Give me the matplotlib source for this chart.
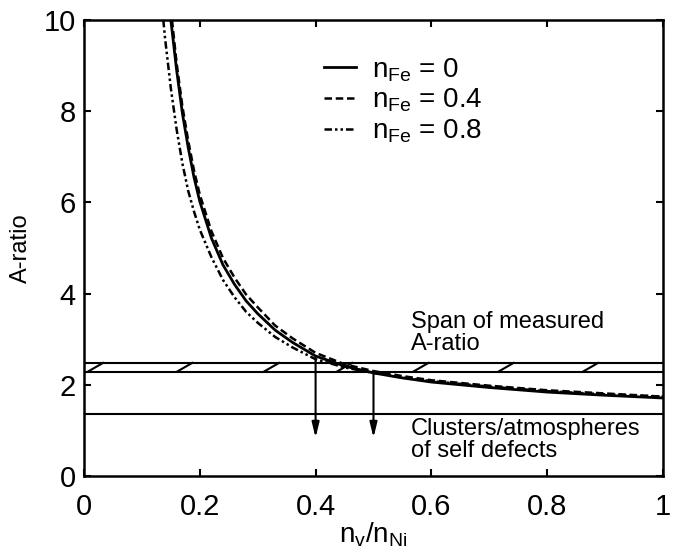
import matplotlib
matplotlib.use("Agg")
import matplotlib.pyplot as plt

plt.rcParams["font.family"] = ["Liberation Sans", "DejaVu Sans"]
plt.rcParams["mathtext.fontset"] = "custom"
plt.rcParams["mathtext.rm"] = "Liberation Sans"
plt.rcParams["mathtext.it"] = "Liberation Sans"
plt.rcParams["mathtext.default"] = "regular"

# curves
x_fe0 = [0.15, 0.16, 0.17, 0.18, 0.19, 0.20, 0.22, 0.24, 0.26, 0.28, 0.30, 0.33,
         0.36, 0.40, 0.45, 0.50, 0.55, 0.60, 0.70, 0.80, 0.90, 1.00]
a_fe0 = [10.0, 8.9, 7.95, 7.2, 6.55, 6.02, 5.22, 4.63, 4.2, 3.84, 3.56, 3.2,
         2.93, 2.63, 2.41, 2.26, 2.15, 2.06, 1.94, 1.84, 1.77, 1.71]

x_fe04 = [0.152, 0.16, 0.17, 0.18, 0.19, 0.20, 0.22, 0.24, 0.26, 0.28, 0.30, 0.33,
          0.36, 0.40, 0.45, 0.50, 0.55, 0.60, 0.70, 0.80, 0.90, 1.00]
a_fe04 = [10.0, 9.05, 8.1, 7.35, 6.7, 6.17, 5.37, 4.78, 4.35, 3.98, 3.7, 3.3,
          3.02, 2.7, 2.45, 2.3, 2.19, 2.1, 1.98, 1.88, 1.81, 1.74]

x_fe08 = [0.137, 0.14, 0.15, 0.16, 0.17, 0.18, 0.19, 0.20, 0.22, 0.24, 0.26, 0.28,
          0.30, 0.33, 0.36, 0.40, 0.45, 0.50, 0.55, 0.60, 0.70, 0.80, 0.90, 1.00]
a_fe08 = [10.0, 9.6, 8.5, 7.6, 6.85, 6.25, 5.8, 5.4, 4.8, 4.3, 3.92, 3.6,
          3.36, 3.05, 2.82, 2.56, 2.38, 2.26, 2.16, 2.08, 1.96, 1.86, 1.79, 1.74]

band_lo, band_hi = 2.29, 2.48
cluster_level = 1.37
hatch_x = [0.02, 0.174, 0.324, 0.45, 0.582, 0.729, 0.875]
arrow_x = [0.4, 0.5]
arrow_start = [2.6, 2.27]
arrow_end = 0.84

fig = plt.figure(figsize=(6.8, 5.6), dpi=100)
ax = fig.add_axes([0.1235, 0.15, 0.8515, 0.8145])

ax.plot(x_fe0, a_fe0, color="black", lw=2.0, ls="-", label=r"n$_{Fe}$ = 0")
ax.plot(x_fe04, a_fe04, color="black", lw=1.8, ls=(0, (3, 1.5)), label=r"n$_{Fe}$ = 0.4")
ax.plot(x_fe08, a_fe08, color="black", lw=1.8, ls=(0, (3, 1.2, 1, 1.2, 1, 1.2)),
        label=r"n$_{Fe}$ = 0.8")

# measured span band
ax.axhline(band_lo, color="black", lw=1.5)
ax.axhline(band_hi, color="black", lw=1.5)
for hx in hatch_x:
    ax.plot([hx - 0.013, hx + 0.013], [band_lo, band_hi], color="black", lw=1.5)
ax.axhline(cluster_level, color="black", lw=1.5)

for xa, ys in zip(arrow_x, arrow_start):
    ax.annotate("", xy=(xa, arrow_end), xytext=(xa, ys),
                arrowprops=dict(arrowstyle="-|>,head_length=0.9,head_width=0.22",
                                color="black", lw=1.5, shrinkA=0, shrinkB=0))

ax.text(0.565, 3.14, "Span of measured\nA-ratio", fontsize=17, va="center",
        linespacing=1.0)
ax.text(0.565, 0.78, "Clusters/atmospheres\nof self defects", fontsize=17,
        va="center", linespacing=1.0)

ax.set_xlim(0, 1)
ax.set_ylim(0, 10)
ax.set_xticks([0, 0.2, 0.4, 0.6, 0.8, 1])
ax.set_xticklabels(["0", "0.2", "0.4", "0.6", "0.8", "1"])
ax.set_yticks([0, 2, 4, 6, 8, 10])
ax.tick_params(direction="in", length=5, width=1.5, labelsize=21,
               top=True, right=True, pad=6)
ax.tick_params(axis="x", pad=12)
for s in ax.spines.values():
    s.set_linewidth(1.8)

ax.set_ylabel("A-ratio", fontsize=17, labelpad=8)
ax.set_xlabel(r"n$_{v}$/n$_{Ni}$", fontsize=20, labelpad=0)

ax.legend(loc="upper left", bbox_to_anchor=(0.395, 0.945), frameon=False,
          fontsize=20, handlelength=1.15, handletextpad=0.6, labelspacing=0.12,
          borderaxespad=0)

fig.savefig("out.png", dpi=100)
